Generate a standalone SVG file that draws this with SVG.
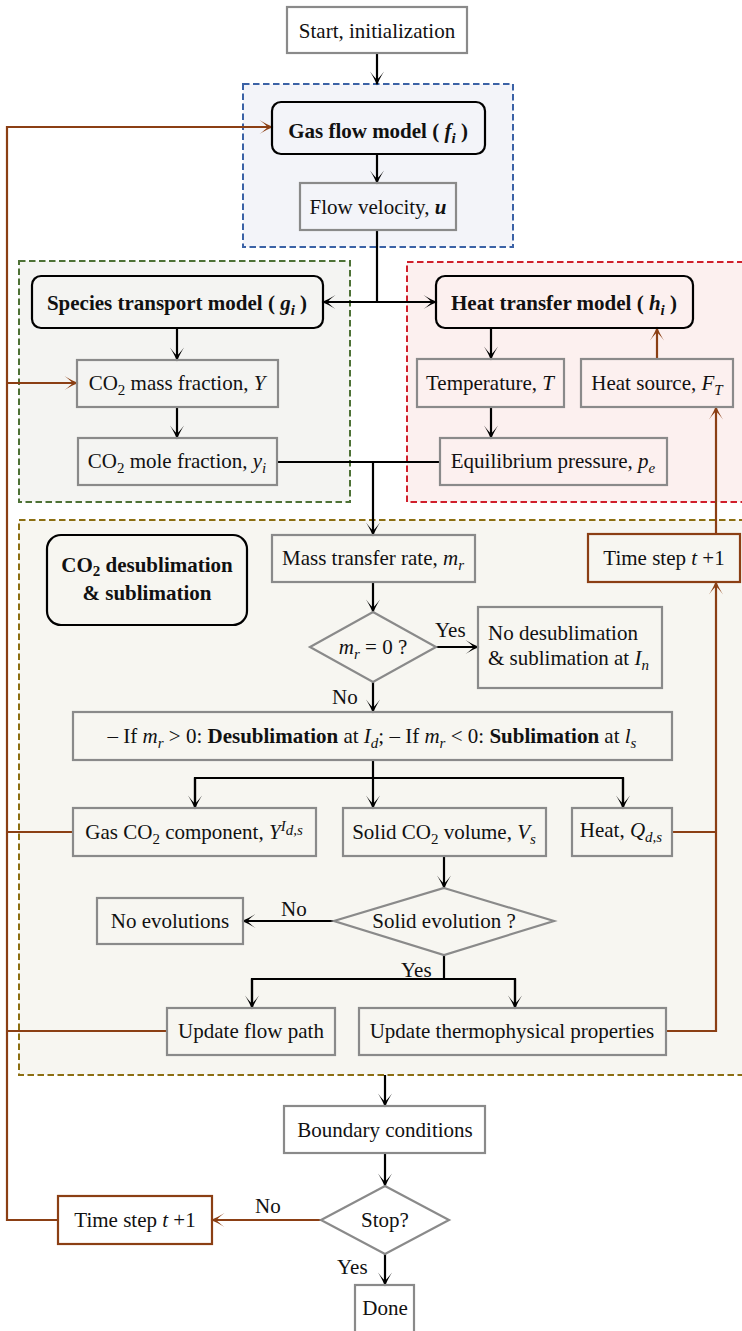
<svg xmlns="http://www.w3.org/2000/svg" width="742" height="1331" viewBox="0 0 742 1331">
<style>
text{font-family:"Liberation Serif","Times New Roman",serif;font-size:21px;fill:#111}
.c{text-anchor:middle}
.b{font-weight:bold}
.i{font-style:italic}
.s{font-size:15px}
.box{fill:none;stroke:#8a8a8a;stroke-width:2.2}
.rbox{fill:none;stroke:#000;stroke-width:2.2}
.tbox{fill:none;stroke:#8b3f14;stroke-width:2.2}
.k{fill:none;stroke:#000;stroke-width:2.2}
.br{fill:none;stroke:#8b3f14;stroke-width:2.2}
.reg{stroke-width:2;stroke-dasharray:6.5 3.5}
</style>
<defs>
<marker id="ak" viewBox="-15 -8 17 16" refX="-1.5" refY="0" markerWidth="17" markerHeight="16" markerUnits="userSpaceOnUse" orient="auto">
<path d="M0,0 Q-6,-2 -14,-7 Q-8,-2.5 -6,0 Q-8,2.5 -14,7 Q-6,2 0,0 Z" fill="#000"/>
</marker>
<marker id="ab" viewBox="-15 -8 17 16" refX="-1.5" refY="0" markerWidth="17" markerHeight="16" markerUnits="userSpaceOnUse" orient="auto">
<path d="M0,0 Q-6,-2 -14,-7 Q-8,-2.5 -6,0 Q-8,2.5 -14,7 Q-6,2 0,0 Z" fill="#8b3f14"/>
</marker>
</defs>
<rect x="0" y="0" width="742" height="1331" fill="#fff"/>

<g id="regions">
<rect class="reg" x="243" y="84" width="270" height="163" fill="#f3f4f9" stroke="#3b62a6"/>
<rect class="reg" x="19" y="261" width="331" height="241" fill="#f4f4f2" stroke="#4e7236"/>
<rect class="reg" x="407" y="262" width="345" height="240" fill="#fcf0ef" stroke="#d01f2b"/>
<rect class="reg" x="19" y="520" width="735" height="555" fill="#f7f6f1" stroke="#8c6f12"/>
</g>

<g id="connectors">
<line class="k" x1="377" y1="53" x2="377" y2="84" marker-end="url(#ak)"/>
<line class="k" x1="377" y1="154" x2="377" y2="183" marker-end="url(#ak)"/>
<line class="k" x1="377" y1="230" x2="377" y2="302"/>
<line class="k" x1="377" y1="302" x2="323" y2="302" marker-end="url(#ak)"/>
<line class="k" x1="377" y1="302" x2="436" y2="302" marker-end="url(#ak)"/>
<line class="k" x1="177" y1="328" x2="177" y2="360" marker-end="url(#ak)"/>
<line class="k" x1="177" y1="407" x2="177" y2="438" marker-end="url(#ak)"/>
<line class="k" x1="491" y1="328" x2="491" y2="359" marker-end="url(#ak)"/>
<line class="k" x1="491" y1="407" x2="491" y2="438" marker-end="url(#ak)"/>
<line class="k" x1="277" y1="462" x2="440" y2="462"/>
<line class="k" x1="373" y1="462" x2="373" y2="535" marker-end="url(#ak)"/>
<line class="k" x1="373" y1="582" x2="373" y2="612" marker-end="url(#ak)"/>
<line class="k" x1="436" y1="647" x2="478" y2="647" marker-end="url(#ak)"/>
<line class="k" x1="373" y1="682" x2="373" y2="712" marker-end="url(#ak)"/>
<polyline class="k" points="373,760 373,778"/>
<polyline class="k" points="195,808 195,778 623,778 623,808"/>
<line class="k" x1="195" y1="778" x2="195" y2="808" marker-end="url(#ak)"/>
<line class="k" x1="373" y1="778" x2="373" y2="808" marker-end="url(#ak)"/>
<line class="k" x1="623" y1="778" x2="623" y2="808" marker-end="url(#ak)"/>
<line class="k" x1="444" y1="856" x2="444" y2="888" marker-end="url(#ak)"/>
<line class="k" x1="334" y1="921" x2="243" y2="921" marker-end="url(#ak)"/>
<polyline class="k" points="444,955 444,979"/>
<polyline class="k" points="252,1008 252,979 515,979 515,1008"/>
<line class="k" x1="252" y1="979" x2="252" y2="1008" marker-end="url(#ak)"/>
<line class="k" x1="515" y1="979" x2="515" y2="1008" marker-end="url(#ak)"/>
<line class="k" x1="385" y1="1075" x2="385" y2="1106" marker-end="url(#ak)"/>
<line class="k" x1="385" y1="1153" x2="385" y2="1186" marker-end="url(#ak)"/>
<line class="k" x1="385" y1="1254" x2="385" y2="1285" marker-end="url(#ak)"/>

<polyline class="br" points="58,1220 7,1220 7,127 272,127" marker-end="url(#ab)"/>
<line class="br" x1="7" y1="383" x2="77" y2="383" marker-end="url(#ab)"/>
<line class="br" x1="73" y1="832" x2="7" y2="832"/>
<line class="br" x1="167" y1="1031" x2="7" y2="1031"/>
<line class="br" x1="321" y1="1220" x2="212" y2="1220" marker-end="url(#ab)"/>
<line class="br" x1="672" y1="832" x2="716" y2="832"/>
<polyline class="br" points="666,1031 716,1031 716,582" marker-end="url(#ab)"/>
<line class="br" x1="716" y1="534" x2="716" y2="407" marker-end="url(#ab)"/>
<line class="br" x1="657" y1="359" x2="657" y2="328" marker-end="url(#ab)"/>

<text x="435" y="637">Yes</text>
<text x="332" y="704">No</text>
<text x="281" y="916">No</text>
<text x="401" y="977">Yes</text>
<text x="255" y="1213">No</text>
<text x="337" y="1274">Yes</text>
</g>

<g id="start"><rect class="box" x="287" y="7" width="180" height="46" fill="#fff"/>
<text class="c" x="377" y="38">Start, initialization</text></g>

<g id="gasflow"><rect class="rbox" x="272" y="102" width="213" height="52" rx="9"/>
<text class="c b" x="378" y="138">Gas flow model ( <tspan class="i">f</tspan><tspan class="i s" dy="5">i</tspan><tspan dy="-5"> )</tspan></text></g>

<g id="velocity"><rect class="box" x="300" y="183" width="156" height="47"/>
<text class="c" x="378" y="214">Flow velocity, <tspan class="i b">u</tspan></text></g>

<g id="species"><rect class="rbox" x="32" y="276" width="291" height="52" rx="9"/>
<text class="c b" x="177" y="310">Species transport model ( <tspan class="i">g</tspan><tspan class="i s" dy="5">i</tspan><tspan dy="-5"> )</tspan></text></g>

<g id="heattransfer"><rect class="rbox" x="436" y="276" width="257" height="52" rx="9"/>
<text class="c b" x="564" y="310">Heat transfer model ( <tspan class="i">h</tspan><tspan class="i s" dy="5">i</tspan><tspan dy="-5"> )</tspan></text></g>

<g id="massfraction"><rect class="box" x="77" y="360" width="201" height="47"/>
<text class="c" x="177" y="390">CO<tspan class="s" dy="5">2</tspan><tspan dy="-5"> mass fraction, </tspan><tspan class="i">Y</tspan></text></g>

<g id="molefraction"><rect class="box" x="78" y="438" width="199" height="47"/>
<text class="c" x="177" y="468">CO<tspan class="s" dy="5">2</tspan><tspan dy="-5"> mole fraction, </tspan><tspan class="i">y</tspan><tspan class="i s" dy="5">i</tspan></text></g>

<g id="temperature"><rect class="box" x="417" y="359" width="147" height="48"/>
<text class="c" x="490" y="390">Temperature, <tspan class="i">T</tspan></text></g>

<g id="heatsource"><rect class="box" x="581" y="359" width="152" height="48"/>
<text class="c" x="657" y="390">Heat source, <tspan class="i">F</tspan><tspan class="i s" dy="5">T</tspan></text></g>

<g id="equilibrium"><rect class="box" x="440" y="438" width="227" height="47"/>
<text class="c" x="553" y="468">Equilibrium pressure, <tspan class="i">p</tspan><tspan class="i s" dy="5">e</tspan></text></g>

<g id="desub-title"><rect class="rbox" x="47" y="535" width="200" height="90" rx="14"/>
<text class="c b" x="147" y="572">CO<tspan class="s" dy="4">2</tspan><tspan dy="-4"> desublimation</tspan></text>
<text class="c b" x="147" y="600">&amp; sublimation</text></g>

<g id="masstransfer"><rect class="box" x="272" y="535" width="203" height="47"/>
<text class="c" x="373" y="565">Mass transfer rate, <tspan class="i">m</tspan><tspan class="i s" dy="5">r</tspan></text></g>

<g id="timestep-right"><rect class="tbox" x="588" y="534" width="152" height="48"/>
<text class="c" x="664" y="565">Time step <tspan class="i">t</tspan> +1</text></g>

<g id="mr-decision"><polygon class="box" points="373,612 436,647 373,682 310,647"/>
<text class="c" x="373" y="654"><tspan class="i">m</tspan><tspan class="i s" dy="5">r</tspan><tspan dy="-5"> = 0 ?</tspan></text></g>

<g id="nodesub"><rect class="box" x="478" y="607" width="184" height="81"/>
<text x="488" y="640">No desublimation</text>
<text x="488" y="665">&amp; sublimation at <tspan class="i">I</tspan><tspan class="i s" dy="5">n</tspan></text></g>

<g id="phase"><rect class="box" x="73" y="712" width="599" height="48"/>
<text class="c" x="372" y="743">– If <tspan class="i">m</tspan><tspan class="i s" dy="5">r</tspan><tspan dy="-5"> &gt; 0: </tspan><tspan class="b">Desublimation</tspan> at <tspan class="i">I</tspan><tspan class="i s" dy="5">d</tspan><tspan dy="-5">; – If </tspan><tspan class="i">m</tspan><tspan class="i s" dy="5">r</tspan><tspan dy="-5"> &lt; 0: </tspan><tspan class="b">Sublimation</tspan> at <tspan class="i">l</tspan><tspan class="i s" dy="5">s</tspan></text></g>

<g id="gasco2"><rect class="box" x="73" y="808" width="243" height="48"/>
<text class="c" x="194" y="839">Gas CO<tspan class="s" dy="5">2</tspan><tspan dy="-5"> component, </tspan><tspan class="i">Y</tspan><tspan class="i s" dy="-8">I</tspan><tspan class="i s" dy="4">d,s</tspan></text></g>

<g id="solidco2"><rect class="box" x="343" y="808" width="203" height="48"/>
<text class="c" x="444" y="839">Solid CO<tspan class="s" dy="5">2</tspan><tspan dy="-5"> volume, </tspan><tspan class="i">V</tspan><tspan class="i s" dy="5">s</tspan></text></g>

<g id="heat"><rect class="box" x="572" y="808" width="100" height="48"/>
<text class="c" x="621" y="837">Heat, <tspan class="i">Q</tspan><tspan class="i s" dy="5">d,s</tspan></text></g>

<g id="solid-decision"><polygon class="box" points="444,888 554,921 444,955 334,921"/>
<text class="c" x="444" y="928">Solid evolution ?</text></g>

<g id="noevol"><rect class="box" x="97" y="898" width="146" height="46"/>
<text class="c" x="170" y="928">No evolutions</text></g>

<g id="flowpath"><rect class="box" x="167" y="1008" width="168" height="47"/>
<text class="c" x="251" y="1038">Update flow path</text></g>

<g id="thermo"><rect class="box" x="359" y="1008" width="307" height="47"/>
<text class="c" x="512" y="1038">Update thermophysical properties</text></g>

<g id="boundary"><rect class="box" x="284" y="1106" width="201" height="47"/>
<text class="c" x="385" y="1137">Boundary conditions</text></g>

<g id="stop"><polygon class="box" points="385,1186 449,1220 385,1254 321,1220"/>
<text class="c" x="385" y="1227">Stop?</text></g>

<g id="timestep-bottom"><rect class="tbox" x="58" y="1196" width="154" height="48"/>
<text class="c" x="135" y="1227">Time step <tspan class="i">t</tspan> +1</text></g>

<g id="done"><rect class="box" x="355" y="1285" width="59" height="50"/>
<text class="c" x="385" y="1315">Done</text></g>
</svg>
